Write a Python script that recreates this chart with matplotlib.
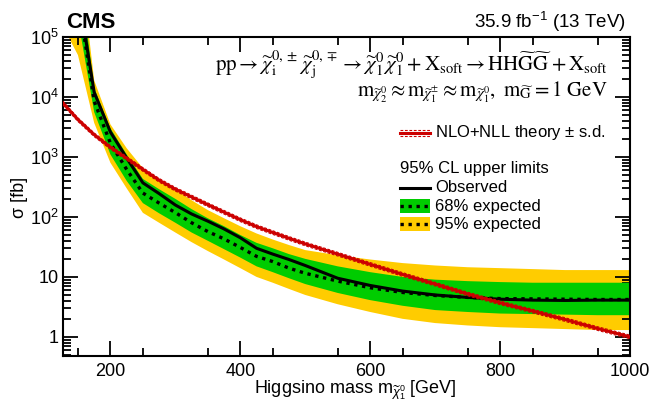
import matplotlib
matplotlib.use("Agg")
import matplotlib.pyplot as plt
from matplotlib.ticker import FixedLocator, NullFormatter, LogLocator
import numpy as np

plt.rcParams['font.family'] = ['Liberation Sans', 'DejaVu Sans']
plt.rcParams['mathtext.fontset'] = 'custom'
plt.rcParams['mathtext.rm'] = 'Liberation Sans'
plt.rcParams['mathtext.it'] = 'Liberation Sans:italic'
plt.rcParams['mathtext.bf'] = 'Liberation Sans:bold'

# ---------------- data ----------------
mass = [127, 150, 175, 200, 225, 250, 275, 300, 325, 350, 375, 400, 425, 450, 475, 500,
        550, 600, 650, 700, 750, 800, 850, 900, 950, 1000]

theory = [7900, 4200, 2350, 1450, 950, 620, 410, 290, 215, 160, 120, 90, 69, 55, 44, 35.5,
          24, 16.2, 11, 7.6, 5.2, 3.7, 2.7, 1.95, 1.38, 1.0]

observed = [2e7, 6e5, 12000, 2600, 960, 370, 245, 158, 112, 85, 63, 45, 30, 24, 19.5, 15.5,
            9.5, 7.2, 5.8, 5.0, 4.55, 4.25, 4.1, 4.05, 4.1, 4.1]

expected = [1e7, 5e5, 8500, 1700, 620, 250, 170, 118, 80, 57, 43, 31, 22, 18, 14, 11.5,
            8.5, 6.6, 5.5, 4.9, 4.55, 4.35, 4.3, 4.25, 4.2, 4.2]

green_hi = [3e7, 2e6, 14000, 3000, 1100, 430, 290, 200, 135, 95, 70, 50, 37, 30, 24, 20,
            15, 12, 10, 9, 8.5, 8.2, 8, 8, 8, 8]
green_lo = [3e6, 2e5, 5600, 1100, 400, 170, 115, 80, 55, 40, 29, 21, 15, 12, 9.5, 7.6,
            5.4, 4.1, 3.3, 2.8, 2.6, 2.45, 2.4, 2.35, 2.3, 2.3]
yellow_hi = [6e7, 4e6, 19000, 3500, 1400, 650, 420, 290, 190, 130, 95, 70, 53, 42, 34, 28,
             23, 19.5, 17, 15.5, 14.5, 14, 13.5, 13, 13, 13]
yellow_lo = [1.5e5, 5e4, 3700, 800, 300, 117, 80, 55, 38, 27, 19.5, 14, 10, 8, 6.3, 5.0,
             3.5, 2.6, 2.0, 1.7, 1.55, 1.45, 1.4, 1.35, 1.3, 1.3]

theory_unc = 0.07  # relative s.d. of theory band

xticks = [200, 400, 600, 800, 1000]
yticks = [1, 10, 100, 1000, 10000, 100000]
yticklabels = ['1', '10', r'$10^{2}$', r'$10^{3}$', r'$10^{4}$', r'$10^{5}$']

# ---------------- figure ----------------
W, H = 652, 401
fig = plt.figure(figsize=(W / 100, H / 100), dpi=100)
L, R, T, B = 63, 630, 37, 356
ax = fig.add_axes([L / W, 1 - B / H, (R - L) / W, (B - T) / H])

yellow = '#ffcc00'
green = '#00cc00'
red = '#cc0000'

m = np.array(mass)
ax.fill_between(m, yellow_lo, yellow_hi, color=yellow, lw=0, zorder=1)
ax.fill_between(m, green_lo, green_hi, color=green, lw=0, zorder=2)
ax.plot(m, expected, color='black', lw=2.4, ls=(0, (1.0, 1.4)), zorder=3)
ax.plot(m, observed, color='black', lw=2.2, zorder=4)
th = np.array(theory)
ax.plot(m, th, color=red, lw=2.2, zorder=5)
ax.plot(m, th * (1 + theory_unc), color=red, lw=0.8, ls=(0, (2.5, 1.5)), zorder=5)
ax.plot(m, th * (1 - theory_unc), color=red, lw=0.8, ls=(0, (2.5, 1.5)), zorder=5)

ax.set_yscale('log')
ax.set_xlim(127, 1000)
ax.set_ylim(0.48, 1e5)

ax.set_xticks(xticks)
ax.set_xticklabels([str(t) for t in xticks])
ax.xaxis.set_minor_locator(FixedLocator(list(range(150, 1000, 100))))
ax.set_yticks(yticks)
ax.set_yticklabels(yticklabels)
ax.yaxis.set_minor_locator(LogLocator(base=10, subs=np.arange(2, 10)))
ax.yaxis.set_minor_formatter(NullFormatter())

ax.tick_params(which='both', direction='in', top=True, right=True, labelsize=13, width=1.3)
ax.tick_params(which='major', length=11)
ax.tick_params(which='minor', length=6)
ax.tick_params(axis='x', pad=5)
ax.tick_params(axis='y', pad=3)
for s in ax.spines.values():
    s.set_linewidth(1.5)

def ax_pt(px, py):
    return ((px - L) / (R - L), (B - py) / (B - T))

# axis labels
x, y = ax_pt(20, 197)
ax.text(x, y, 'σ [fb]', transform=ax.transAxes, fontsize=13, rotation=90,
        ha='center', va='center')
x, y = ax_pt(457, 394)
ax.text(x, y, r'Higgsino mass m$_{\widetilde{\chi}^{0}_{1}}$ [GeV]', transform=ax.transAxes,
        fontsize=13, ha='right', va='baseline')

# header texts
fig.text(66 / W, 1 - 22 / H, 'CMS', fontsize=16, fontweight='bold', va='center', ha='left')
fig.text(626 / W, 1 - 22 / H, r'35.9 fb$^{-1}$ (13 TeV)', fontsize=13.5, va='center', ha='right')

proc = (r'$\mathrm{pp} \rightarrow \widetilde{\chi}^{0,\pm}_{\mathrm{i}}\,\widetilde{\chi}^{0,\mp}_{\mathrm{j}}'
        r'\rightarrow \widetilde{\chi}^{0}_{1}\,\widetilde{\chi}^{0}_{1} + \mathrm{X}_{\mathrm{soft}}'
        r'\rightarrow \mathrm{HH}\widetilde{\mathrm{G}}\widetilde{\mathrm{G}} + \mathrm{X}_{\mathrm{soft}}$')
mass_rel = (r'$\mathrm{m}_{\widetilde{\chi}^{0}_{2}} \approx \mathrm{m}_{\widetilde{\chi}^{\pm}_{1}}'
            r' \approx \mathrm{m}_{\widetilde{\chi}^{0}_{1}},\ \mathrm{m}_{\widetilde{\mathrm{G}}} = 1\ \mathrm{GeV}$')
x, y = ax_pt(608, 65)
ax.text(x, y, proc, transform=ax.transAxes, fontsize=15, ha='right', va='center',
        math_fontfamily='stix')
x, y = ax_pt(608, 92)
ax.text(x, y, mass_rel, transform=ax.transAxes, fontsize=15, ha='right', va='center',
        math_fontfamily='stix')

# legend (manual)
hx0, hx1, tx = 400, 430, 435
lfs = 12
x0, yv = ax_pt(hx0, 133)
x1, _ = ax_pt(hx1, 133)
off = 3.0 / (B - T)
ax.plot([x0, x1], [yv, yv], color=red, lw=2.2, transform=ax.transAxes)
ax.plot([x0, x1], [yv + off, yv + off], color=red, lw=0.8, ls=(0, (2.5, 1.5)), transform=ax.transAxes)
ax.plot([x0, x1], [yv - off, yv - off], color=red, lw=0.8, ls=(0, (2.5, 1.5)), transform=ax.transAxes)
xt, _ = ax_pt(tx, 133)
ax.text(xt, yv, r'NLO+NLL theory $\pm$ s.d.', transform=ax.transAxes, fontsize=lfs, va='center')

xh, yh = ax_pt(hx0, 168)
ax.text(xh, yh, '95% CL upper limits', transform=ax.transAxes, fontsize=lfs, va='center')

_, yv = ax_pt(0, 188)
ax.plot([x0, x1], [yv, yv], color='black', lw=2.2, transform=ax.transAxes)
ax.text(xt, yv, 'Observed', transform=ax.transAxes, fontsize=lfs, va='center')

for py, col, lab in [(206, green, '68% expected'), (224, yellow, '95% expected')]:
    _, yv = ax_pt(0, py)
    hh = 14 / (B - T)
    ax.add_patch(plt.Rectangle((x0, yv - hh / 2), x1 - x0, hh, color=col, lw=0,
                               transform=ax.transAxes, zorder=6))
    ax.plot([x0, x1], [yv, yv], color='black', lw=2.4, ls=(0, (1.0, 1.4)),
            transform=ax.transAxes, zorder=7)
    ax.text(xt, yv, lab, transform=ax.transAxes, fontsize=lfs, va='center')

fig.savefig('out.png', dpi=100)
